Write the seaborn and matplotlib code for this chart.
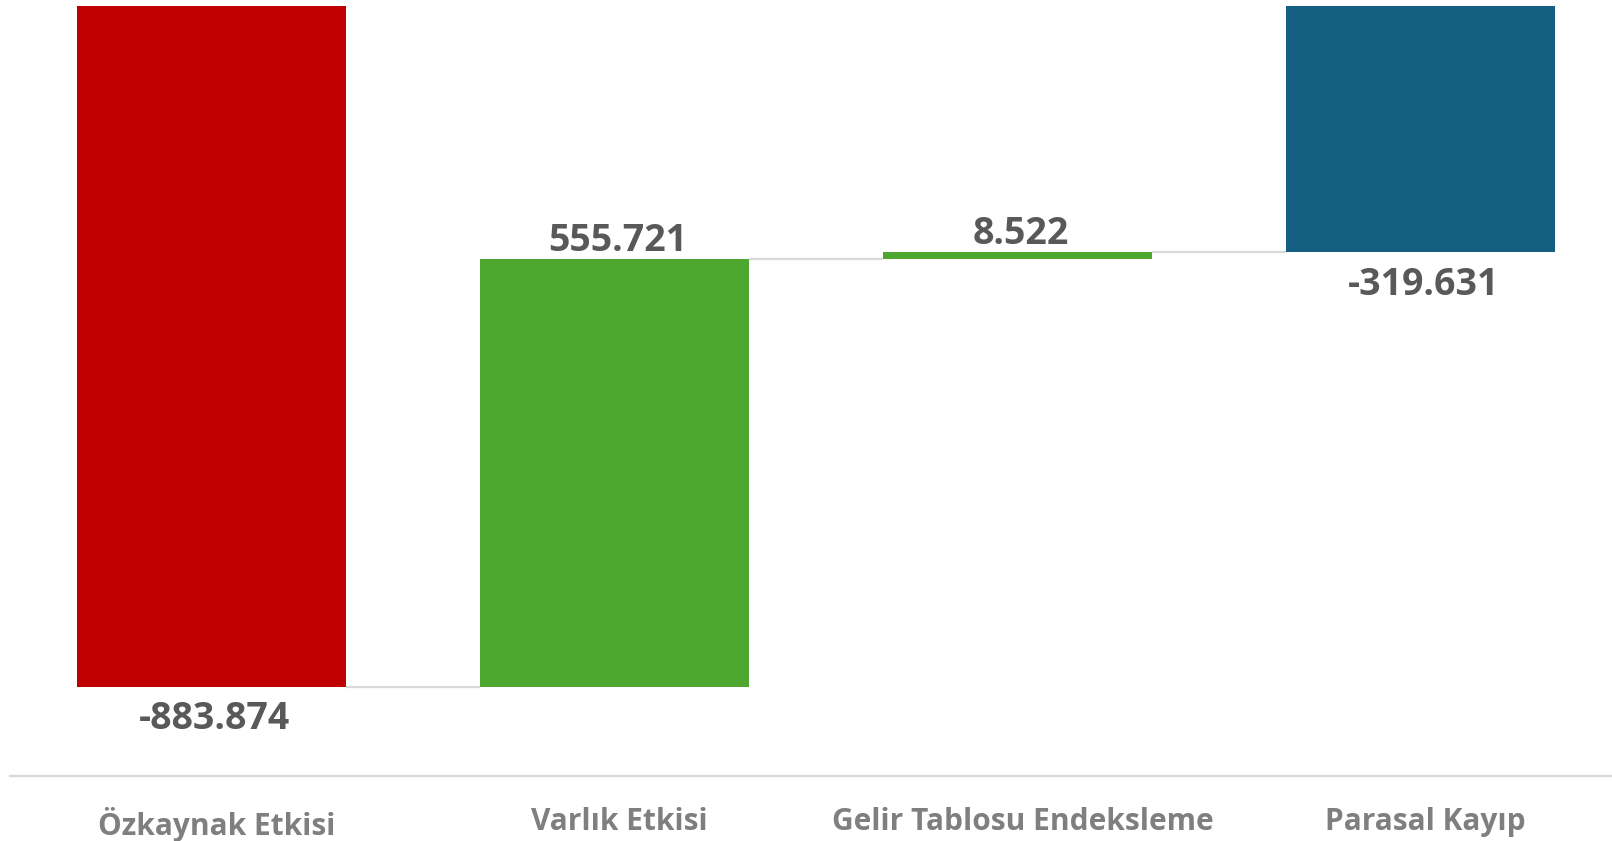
import numpy as np
import pandas as pd
import matplotlib
matplotlib.use("Agg")
import matplotlib.pyplot as plt
import matplotlib.transforms as mtransforms
import seaborn as sns

# waterfall data (values as shown, Turkish thousands separator)
categories = ["Özkaynak Etkisi", "Varlık Etkisi", "Gelir Tablosu Endeksleme", "Parasal Kayıp"]
steps = [-883.874, 555.721, 8.522]
total = -319.631
colors = ["#C00000", "#4EA72E", "#4EA72E", "#156082"]

sns.set_style("white")
plt.rcParams["font.family"] = ["Open Sans", "DejaVu Sans"]

ends = np.cumsum(steps)
heights = np.array(steps + [total])
bottoms = np.concatenate([[0.0], ends[:-1], [0.0]])
levels = np.concatenate([ends, [total]])

df = pd.DataFrame({"kategori": categories, "deger": heights})

fig = plt.figure(figsize=(16.12, 8.41), dpi=100)
ax = fig.add_axes([10 / 1612, 1 - 776 / 841, 1 - 10 / 1612, 776 / 841])

bar_w = 0.667
sns.barplot(data=df, x="kategori", y="deger", order=categories, width=bar_w,
            bottom=bottoms, color=colors[0], ax=ax)
for patch, c in zip(ax.patches, colors):
    patch.set_facecolor(c)
    patch.set_edgecolor("none")

# connectors between bars
for i in range(len(categories) - 1):
    ax.hlines(levels[i], i + bar_w / 2, i + 1 - bar_w / 2, color="#d9d9d9", lw=1.6, zorder=0)

# value labels
for i, (h, lv) in enumerate(zip(heights, levels)):
    txt = f"{h:.3f}"
    off = -23.5 if h < 0 else 13
    ax.annotate(txt, (i, lv), xytext=(2.5, off), textcoords="offset points",
                ha="center", va="center", fontsize=27, fontweight="bold", color="#595959")

ax.set_ylim(-1000, 7.8)
ax.set_xlim(-0.5, 3.5 - 10 / 403)
ax.set_xlabel("")
ax.set_ylabel("")
ax.set_yticks([])
for s in ["top", "left", "right"]:
    ax.spines[s].set_visible(False)
ax.spines["bottom"].set_color("#d9d9d9")
ax.spines["bottom"].set_linewidth(1.6)
ax.tick_params(axis="x", length=0, pad=22, labelsize=21.5, labelcolor="#7f7f7f")
shift = mtransforms.ScaledTranslation(5 / 100, 0, fig.dpi_scale_trans)
for t in ax.get_xticklabels():
    t.set_fontweight("bold")
    t.set_transform(t.get_transform() + shift)

fig.savefig("out.png", dpi=100)
